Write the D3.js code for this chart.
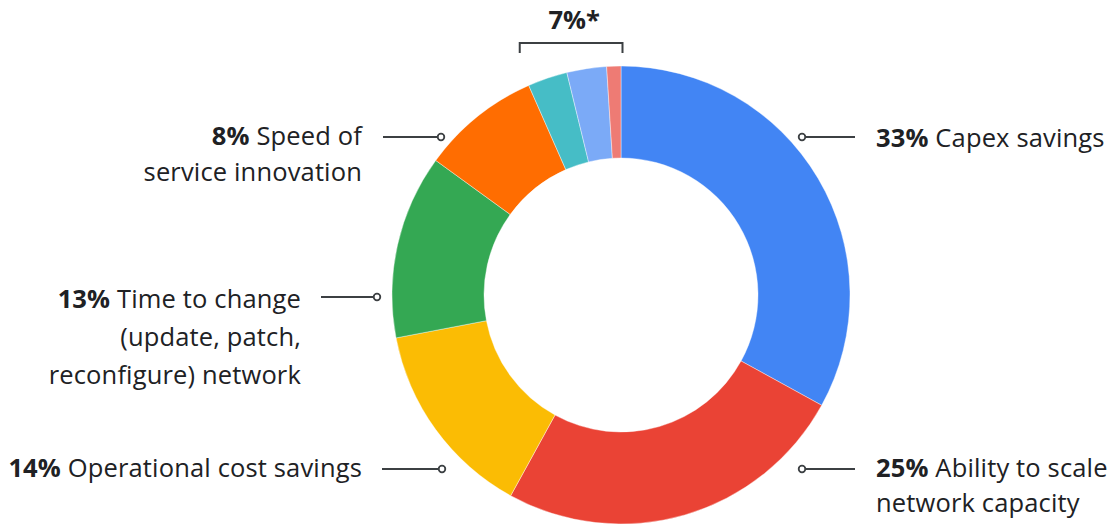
<!DOCTYPE html>
<html>
<head>
<meta charset="utf-8">
<script src="https://cdn.jsdelivr.net/npm/d3@7"></script>
<style>
  html, body { margin: 0; padding: 0; background: #ffffff; }
  svg { display: block; }
  text { font-family: "Open Sans", Roboto, sans-serif; fill: #202124; }
</style>
</head>
<body>
<svg id="chart" width="1112" height="525"></svg>
<script>
// Data (clockwise from 12 o'clock)
const categories = ["Capex savings", "Ability to scale network capacity", "Operational cost savings",
  "Time to change (update, patch, reconfigure) network", "Speed of service innovation",
  "Other A", "Other B", "Other C"];
const values = [33, 25, 14, 13, 8.4, 2.8, 2.8, 1.0];
const colors = ["#4285F4", "#EA4335", "#FBBC04", "#34A853", "#FF6D01", "#46BDC6", "#7BAAF7", "#EE7B74"];
const pctLabels = ["33%", "25%", "14%", "13%", "8%"];
const textLines = [
  ["Capex savings"],
  ["Ability to scale", "network capacity"],
  ["Operational cost savings"],
  ["Time to change", "(update, patch,", "reconfigure) network"],
  ["Speed of", "service innovation"]
];
const groupLabel = "7%*";

const svg = d3.select("#chart");
const cx = 621, cy = 295, R = 229, r = 137;
const g = svg.append("g").attr("transform", `translate(${cx},${cy})`);

const pie = d3.pie().sort(null).value(d => d).startAngle(0).endAngle(2 * Math.PI);
const arc = d3.arc().innerRadius(r).outerRadius(R);
const arcs = pie(values);

g.selectAll("path.slice").data(arcs).join("path")
  .attr("class", "slice")
  .attr("d", arc)
  .attr("fill", (d, i) => colors[i])
  .attr("stroke", "#ffffff")
  .attr("stroke-width", 0.4);

const layout = [
  { side: "right", ly: 137, dotX: 802, lineX: 855, tx: 876, by: 147 },
  { side: "right", ly: 469, dotX: 802, lineX: 855, tx: 876, by: 477 },
  { side: "left", ly: 469, dotX: 442, lineX: 382, tx: 362, by: 477 },
  { side: "left", ly: 297, dotX: 377, lineX: 321, tx: 301, by: 308 },
  { side: "left", ly: 137, dotX: 441, lineX: 383, tx: 362, by: 145 }
];
const lineH = [0, 35, 35, 38, 36];
const fs = 25.5;
const ink = "#3c4043";

layout.forEach((L, i) => {
  svg.append("line")
    .attr("x1", L.dotX).attr("x2", L.lineX)
    .attr("y1", L.ly).attr("y2", L.ly)
    .attr("stroke", ink).attr("stroke-width", 2);
  svg.append("circle")
    .attr("cx", L.dotX).attr("cy", L.ly).attr("r", 3.3)
    .attr("fill", "#fff").attr("stroke", ink).attr("stroke-width", 1.8);
  const anchor = L.side === "right" ? "start" : "end";
  const t = svg.append("text")
    .attr("x", L.tx).attr("y", L.by)
    .attr("text-anchor", anchor)
    .attr("font-size", fs)
    .attr("letter-spacing", 0.15);
  textLines[i].forEach((line, j) => {
    const ts = t.append("tspan").attr("x", L.tx).attr("dy", j === 0 ? 0 : lineH[i]);
    if (j === 0) {
      ts.append("tspan").attr("font-weight", "bold").text(pctLabels[i] + " ");
      ts.append("tspan").text(line);
    } else {
      ts.text(line);
    }
  });
});

// Bracket for the small slices
const smallStart = arcs[5].startAngle, smallEnd = arcs[7].endAngle;
const pStart = [cx + R * Math.sin(smallStart), cy - R * Math.cos(smallStart)];
const pEnd = [cx + R * Math.sin(smallEnd), cy - R * Math.cos(smallEnd)];
const bLeft = pStart[0] - 9, bRight = pEnd[0] + 1.5;
svg.append("path")
  .attr("d", `M${bLeft},53 L${bLeft},43 L${bRight},43 L${bRight},53`)
  .attr("fill", "none").attr("stroke", ink).attr("stroke-width", 2);
svg.append("text")
  .attr("x", (bLeft + bRight) / 2 + 3).attr("y", 29)
  .attr("text-anchor", "middle").attr("font-size", fs).attr("font-weight", "bold")
  .text(groupLabel);
</script>
</body>
</html>
